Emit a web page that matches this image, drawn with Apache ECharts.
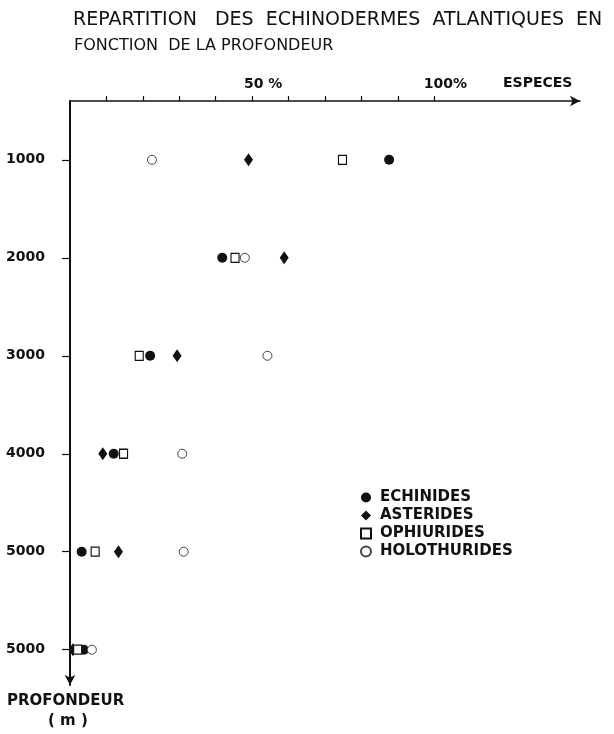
<!DOCTYPE html>
<html>
<head>
<meta charset="utf-8">
<script src="https://cdn.jsdelivr.net/npm/echarts@6/dist/echarts.min.js"></script>
<style>html,body{margin:0;padding:0;background:#fff}#c{width:614px;height:734px}</style>
</head>
<body>
<div id="c"></div>
<script>
// depth rows (m) and their tick labels as printed
const depths = [1000, 2000, 3000, 4000, 5000, 6000];
const yTickLabels = ['1000', '2000', '3000', '4000', '5000', '5000'];
// percentage of species
const xTickValues = [10, 20, 30, 40, 50, 60, 70, 80, 90, 100];
const xLabelValues = [50, 100];
const xTickLabels = ['50 %', '100%'];
const seriesNames = ['ECHINIDES', 'ASTERIDES', 'OPHIURIDES', 'HOLOTHURIDES'];
const echinides = [87.6, 41.8, 22.0, 12.0, 3.2, 3.8];
const asterides = [49.0, 58.8, 29.4, 9.0, 13.3, 0.8];
const ophiurides = [74.8, 45.3, 19.0, 14.7, 6.9, 2.1];
const holothurides = [22.5, 48.0, 54.2, 30.8, 31.2, 6.0];

const ink = '#111';
const font = 'DejaVu Sans';

function pairs(vals) { return vals.map((v, i) => [v, depths[i]]); }

const chart = echarts.init(document.getElementById('c'), null, {renderer: 'canvas'});
chart.setOption({
  animation: false,
  backgroundColor: '#fff',
  title: [
    {text: 'REPARTITION   DES  ECHINODERMES  ATLANTIQUES  EN', left: 68, top: 6,
     textStyle: {fontFamily: font, fontSize: 19, fontWeight: 'normal', color: ink}},
    {text: 'FONCTION  DE LA PROFONDEUR', left: 69, top: 33,
     textStyle: {fontFamily: font, fontSize: 16, fontWeight: 'normal', color: ink}}
  ],
  grid: {left: 70, top: 101, right: 34, bottom: 49, containLabel: false},
  xAxis: {
    type: 'value', position: 'top', min: 0, max: 140,
    splitLine: {show: false},
    axisLine: {lineStyle: {color: ink, width: 1.5}, symbol: ['none', 'arrow'], symbolSize: [8, 10]},
    axisTick: {show: true, customValues: xTickValues, length: 5, lineStyle: {color: ink, width: 1.2}},
    axisLabel: {
      customValues: xLabelValues,
      formatter: v => xTickLabels[xLabelValues.indexOf(v)] || '',
      fontFamily: font, fontWeight: 'bold', fontSize: 14, color: ink,
      margin: 10, padding: [0, 0, 0, 22]
    }
  },
  yAxis: {
    type: 'value', inverse: true, min: 400, max: 6360,
    splitLine: {show: false},
    axisLine: {lineStyle: {color: ink, width: 2}, symbol: ['arrow', 'none'], symbolSize: [8, 10]},
    axisTick: {show: true, customValues: depths, length: 8, lineStyle: {color: ink, width: 1.2}},
    axisLabel: {
      customValues: depths,
      formatter: v => yTickLabels[depths.indexOf(v)] || '',
      fontFamily: font, fontWeight: 'bold', fontSize: 14, color: ink, margin: 25
    }
  },
  legend: {
    orient: 'vertical', left: 355, top: 485, itemGap: 3, itemWidth: 10, itemHeight: 10,
    textStyle: {fontFamily: font, fontWeight: 'bold', fontSize: 15, color: ink, padding: [0, 0, 0, 4]},
    data: seriesNames
  },
  series: [
    {name: seriesNames[0], type: 'scatter', symbol: 'circle', symbolSize: 10,
     itemStyle: {color: ink, opacity: 1}, data: pairs(echinides)},
    {name: seriesNames[1], type: 'scatter', symbol: 'diamond', symbolSize: [9, 13],
     itemStyle: {color: ink, opacity: 1}, data: pairs(asterides)},
    {name: seriesNames[2], type: 'scatter', symbol: 'rect', symbolSize: [8, 9],
     itemStyle: {color: '#fff', borderColor: ink, borderWidth: 1.2, opacity: 1}, data: pairs(ophiurides)},
    {name: seriesNames[3], type: 'scatter', symbol: 'circle', symbolSize: 9,
     itemStyle: {color: '#fff', borderColor: '#444', borderWidth: 1, opacity: 1}, data: pairs(holothurides)}
  ],
  graphic: [
    {type: 'text', left: 503, top: 76, style: {text: 'ESPECES', font: 'bold 14px "DejaVu Sans"', fill: ink}},
    {type: 'text', left: 7, top: 694, style: {text: 'PROFONDEUR', font: 'bold 15px "DejaVu Sans"', fill: ink}},
    {type: 'text', left: 48, top: 714, style: {text: '( m )', font: 'bold 15px "DejaVu Sans"', fill: ink}}
  ]
});
</script>
</body>
</html>
